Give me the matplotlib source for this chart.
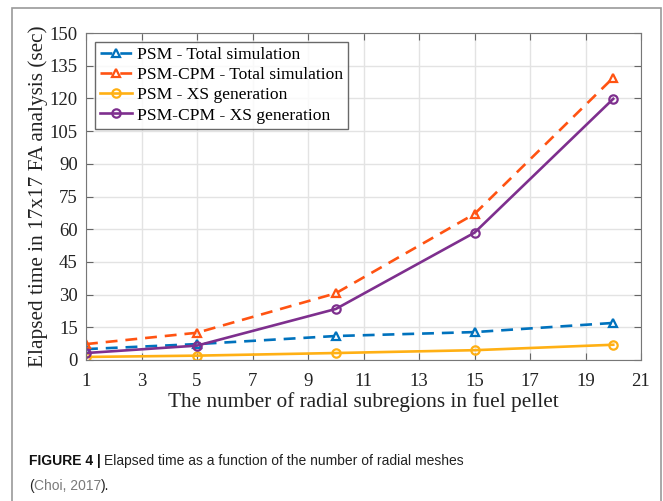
import matplotlib
matplotlib.use("Agg")
import matplotlib.pyplot as plt
from matplotlib.patches import Rectangle

# radial subregions
meshes = [1, 5, 10, 15, 20]

# elapsed time (sec)
psm_total = [5.0, 7.3, 11.0, 12.8, 17.0]
cpm_total = [7.3, 12.5, 30.6, 67.0, 129.5]
psm_xs = [1.4, 2.0, 3.2, 4.5, 7.0]
cpm_xs = [3.2, 6.6, 23.4, 58.4, 119.8]

x_ticks = list(range(1, 22, 2))
y_ticks = list(range(0, 151, 15))

fig = plt.figure(figsize=(6.63, 5.01), dpi=100)

# page card border
fig.patches.append(Rectangle((12 / 663, -0.1), (661 - 12) / 663, 1.1 - 8 / 501,
                             transform=fig.transFigure, fill=False,
                             edgecolor="#9a9a9a", linewidth=1.2))

ax = fig.add_axes([86 / 663, (501 - 360) / 501, (641 - 86) / 663, (360 - 33) / 501])

serif = "Liberation Serif"
dash = (0, (4.5, 3))

ax.plot(meshes, psm_total, color="#0072BD", linestyle=dash, linewidth=1.9,
        marker="^", markersize=6, markerfacecolor="none", markeredgewidth=1.6,
        label="PSM - Total simulation")
ax.plot(meshes, cpm_total, color="#FF5312", linestyle=dash, linewidth=1.9,
        marker="^", markersize=6, markerfacecolor="none", markeredgewidth=1.6,
        label="PSM-CPM - Total simulation")
ax.plot(meshes, psm_xs, color="#FFB014", linewidth=1.9,
        marker="o", markersize=6, markerfacecolor="none", markeredgewidth=1.6,
        label="PSM - XS generation")
ax.plot(meshes, cpm_xs, color="#7E2F8E", linewidth=1.9,
        marker="o", markersize=6, markerfacecolor="none", markeredgewidth=1.6,
        label="PSM-CPM - XS generation")

ax.set_xlim(1, 21)
ax.set_ylim(0, 150)
ax.set_xticks(x_ticks)
ax.set_yticks(y_ticks)
ax.grid(True, color="#e3e3e3", linewidth=1)
ax.set_axisbelow(True)
ax.tick_params(direction="in", top=True, right=True, length=5, color="#666666",
               labelsize=13.5, pad=6, labelcolor="#222222")
ax.tick_params(axis="x", pad=9)
for lab in ax.get_xticklabels() + ax.get_yticklabels():
    lab.set_fontfamily(serif)
for s in ax.spines.values():
    s.set_color("#777777")

ax.set_xlabel("The number of radial subregions in fuel pellet", fontfamily=serif,
              fontsize=15.3, color="#222222", labelpad=2)
ax.set_ylabel("Elapsed time in 17x17 FA analysis (sec)", fontfamily=serif,
              fontsize=15.3, color="#222222", labelpad=1)

leg = ax.legend(loc="upper left", prop={"family": serif, "size": 12.6},
                frameon=True, fancybox=False, edgecolor="#444444",
                handlelength=1.8, handletextpad=0.3, borderpad=0.3,
                labelspacing=0.22, borderaxespad=0.5)
leg.get_frame().set_linewidth(1)

# caption, pieces placed one after another
cap_size = 10.0
renderer = fig.canvas.get_renderer()


def put(x_px, y_px, s, **kw):
    t = fig.text(x_px / 663, 1 - y_px / 501, s, fontsize=cap_size, va="baseline",
                 fontfamily="Liberation Sans", **kw)
    bb = t.get_window_extent(renderer=renderer)
    return x_px + bb.width


x = put(29, 465, "FIGURE 4 |", fontweight="bold", color="#111111")
put(x + 3, 465, "Elapsed time as a function of the number of radial meshes", color="#222222")
x = put(29, 490, "(", color="#222222")
x = put(x, 490, "Choi, 2017", color="#7a7a7a")
put(x, 490, ").", color="#222222")

fig.savefig("out.png", dpi=100)
